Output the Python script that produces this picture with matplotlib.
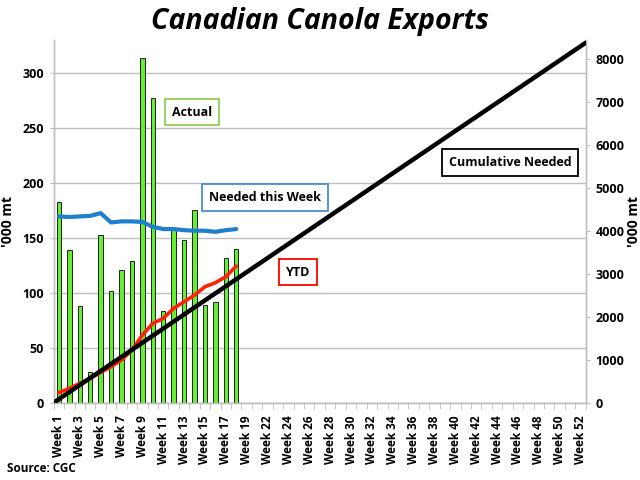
import matplotlib
matplotlib.use("Agg")
import matplotlib.pyplot as plt
import numpy as np

plt.rcParams['font.family'] = ['Open Sans', 'DejaVu Sans']

# ---- data ----
week_numbers = [1, 2, 3, 4, 5, 6, 7, 8, 9, 10, 11, 12, 13, 14, 15, 16, 17, 18, 19, 20,
                22, 23, 24, 25, 26, 27, 28, 29, 30, 31, 32, 33, 34, 35, 36, 37, 38, 39, 40,
                41, 42, 43, 44, 45, 46, 47, 48, 49, 50, 51, 52]
categories = ["Week %d" % w for w in week_numbers]

actual = [183, 139, 88, 28, 153, 102, 121, 129, 314, 277, 83, 157, 148, 175, 89, 92, 132, 140]
needed_this_week = [169.5, 169, 169.5, 170, 172.5, 164, 165, 165, 164.5, 160, 158, 158,
                    157, 156.5, 156.5, 155.5, 157, 158]
ytd = [233, 334, 450, 566, 706, 838, 993, 1226, 1575, 1847, 1963, 2196, 2351, 2506,
       2700, 2793, 2933, 3181]
cumulative_needed = [0, 8380]

# ---- figure ----
fig = plt.figure(figsize=(6.4, 4.8), dpi=100)
ax = fig.add_axes([0.0839, 0.161, 0.8313, 0.7556])
ax2 = ax.twinx()

n = len(categories)
x = np.arange(n)
xa = np.arange(len(actual))

grid_c = '#BFBFBF'
ax.set_xlim(-0.5, n - 0.5)
ax.set_ylim(0, 330)
ax2.set_ylim(0, 8443)

ax.set_yticks([0, 50, 100, 150, 200, 250, 300])
ax2.set_yticks([0, 1000, 2000, 3000, 4000, 5000, 6000, 7000, 8000])
ax.yaxis.grid(True, color=grid_c, linewidth=1.0)
ax.set_axisbelow(True)

ax.bar(xa, actual, width=0.42, color='#66EE33', edgecolor='#222222', linewidth=0.7, zorder=2)
ax.plot(xa, needed_this_week, color='#1F7FCF', linewidth=3.0, zorder=3, solid_capstyle='round')

ax2.plot(xa, ytd, color='#FF2200', linewidth=2.6, zorder=3, solid_capstyle='round')
ax2.plot([-0.5, n - 0.5], cumulative_needed, color='black', linewidth=3.2, zorder=4,
         solid_capstyle='round')

# axes styling
for a in (ax, ax2):
    a.spines['top'].set_visible(False)
    for s in ('left', 'right', 'bottom'):
        a.spines[s].set_color(grid_c)
        a.spines[s].set_linewidth(1.0)

ax.set_xticks(x[::2])
ax.set_xticklabels(categories[::2], rotation=90, fontsize=8.5, fontweight='bold')
ax.set_xticks(np.arange(n + 1) - 0.5, minor=True)
ax.tick_params(axis='x', which='major', length=0, pad=9)
ax.tick_params(axis='x', which='minor', length=4, color=grid_c, direction='out')
ax.tick_params(axis='y', length=3, color=grid_c, labelsize=9, pad=4)
ax2.tick_params(axis='y', length=3, color=grid_c, labelsize=9, pad=4)
for lab in ax.get_yticklabels() + ax2.get_yticklabels():
    lab.set_fontweight('bold')

ax.set_ylabel("'000 mt", fontsize=10, fontweight='bold', labelpad=5)
ax2.set_ylabel("'000 mt", fontsize=10, fontweight='bold', labelpad=2)

# text boxes
def box(xc, yc, text, ec):
    fig.text(xc / 640, 1 - yc / 480, text, ha='center', va='center', fontsize=9,
             fontweight='bold',
             bbox=dict(boxstyle='square,pad=0.55', fc='white', ec=ec, lw=1.3), zorder=10)

box(192, 112, "Actual", '#92D050')
box(265, 197.5, "Needed this Week", '#4A8ED6')
box(298, 272, "YTD", '#FF0000')
box(510, 162.5, "Cumulative Needed", 'black')

fig.text(0.5, 1 - 21 / 480, "Canadian Canola Exports", ha='center', va='center',
         fontsize=20.5, fontweight='bold', style='italic')
fig.text(7 / 640, 1 - 468 / 480, "Source: CGC", ha='left', va='center', fontsize=8.5,
         fontweight='bold')

fig.savefig('out.png', dpi=100)
